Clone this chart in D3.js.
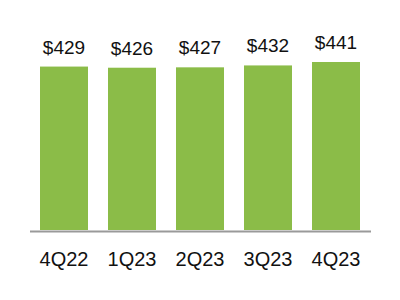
<!DOCTYPE html>
<html>
<head>
<meta charset="utf-8">
<script src="https://cdn.jsdelivr.net/npm/d3@7"></script>
<style>
  body { margin: 0; background: #fff; }
  text { font-family: "Liberation Sans", Arial, Helvetica, sans-serif; fill: #111; }
</style>
</head>
<body>
<div id="chart"></div>
<script>
// quarters and values (in $)
var quarters = ["4Q22", "1Q23", "2Q23", "3Q23", "4Q23"];
var values = [429, 426, 427, 432, 441];
var labels = ["$429", "$426", "$427", "$432", "$441"];

var width = 400, height = 300;

var svg = d3.select("#chart").append("svg")
    .attr("width", width).attr("height", height);

var x = d3.scaleBand()
    .domain(quarters)
    .range([40, 360])
    .paddingInner(20 / 68)
    .paddingOuter(0);

var y = d3.scaleLinear()
    .domain([0, 441])
    .range([230, 62]);

// bars
svg.selectAll("rect.bar")
    .data(values)
    .enter().append("rect")
    .attr("class", "bar")
    .attr("x", function(d, i) { return x(quarters[i]); })
    .attr("y", function(d) { return y(d); })
    .attr("width", x.bandwidth())
    .attr("height", function(d) { return y(0) - y(d); })
    .attr("fill", "#8bbc48");

// value labels
svg.selectAll("text.val")
    .data(values)
    .enter().append("text")
    .attr("class", "val")
    .attr("x", function(d, i) { return x(quarters[i]) + x.bandwidth() / 2; })
    .attr("y", function(d) { return y(d) - 13; })
    .attr("text-anchor", "middle")
    .style("font-size", "19px")
    .text(function(d, i) { return labels[i]; });

// baseline
svg.append("line")
    .attr("x1", 30).attr("x2", 371)
    .attr("y1", 231.5).attr("y2", 231.5)
    .attr("stroke", "#9a9a9a")
    .attr("stroke-width", 2);

// category axis
var xAxis = d3.axisBottom(x).tickSize(0).tickPadding(0);
var gx = svg.append("g")
    .attr("transform", "translate(0,252)")
    .call(xAxis);
gx.select(".domain").remove();
gx.selectAll("text")
    .attr("dy", "0.71em")
    .style("font-size", "20px")
    .style("font-family", "'Liberation Sans', Arial, sans-serif")
    .attr("fill", "#111");
</script>
</body>
</html>
